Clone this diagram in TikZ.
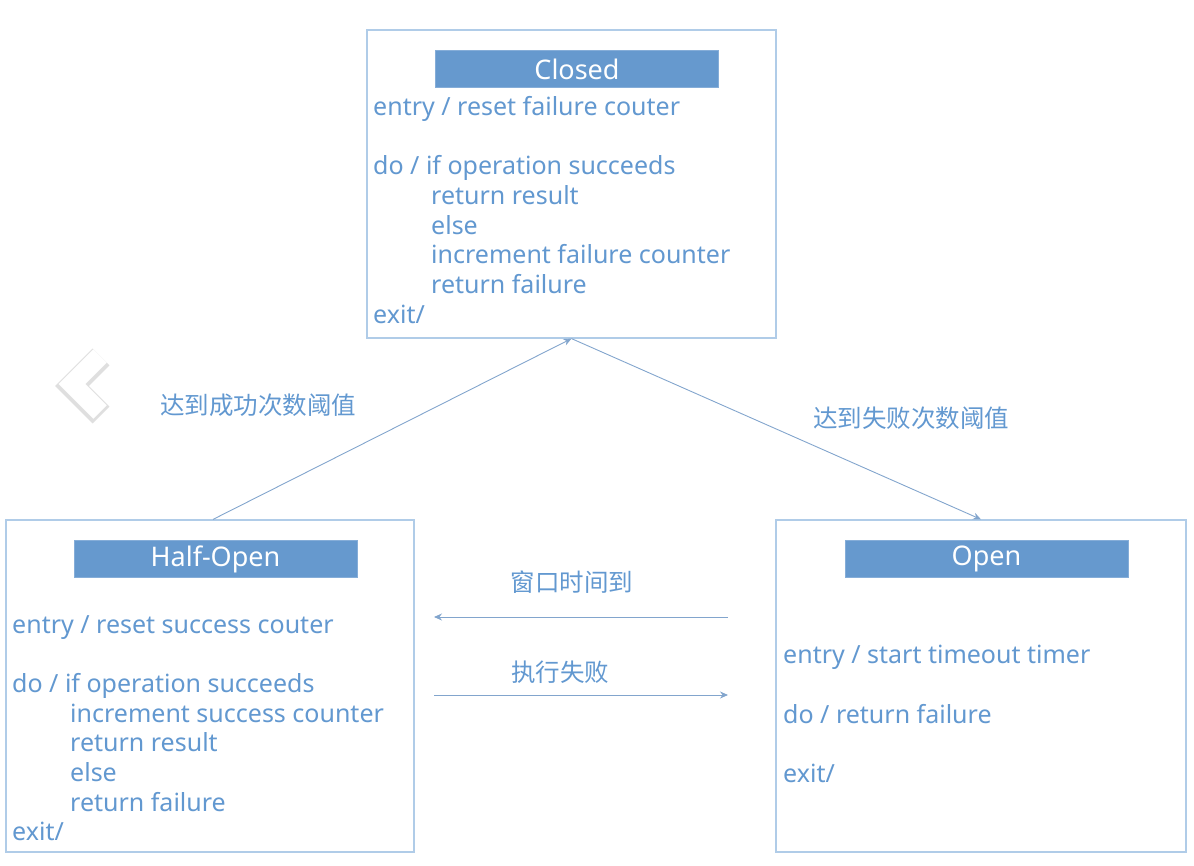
\documentclass[tikz,border=0pt]{standalone}
\usepackage{fontspec}
\setmainfont{Noto Sans}
\newfontfamily\cjk{Noto Sans CJK SC}
\usetikzlibrary{arrows.meta}
\definecolor{txtblue}{RGB}{98,152,208}
\definecolor{barblue}{RGB}{102,153,206}
\definecolor{boxline}{RGB}{176,204,232}
\definecolor{arrowc}{RGB}{130,165,205}
\tikzset{
  statebox/.style={draw=boxline, line width=1.2pt, fill=white, inner sep=0pt},
  titlebar/.style={fill=barblue, draw=barblue!80!white, line width=0.6pt, minimum width=283pt, minimum height=37pt, inner sep=0pt, text=white, font=\fontsize{27}{30}\selectfont},
  bodytext/.style={anchor=north west, inner sep=0pt, align=left, text=txtblue, font=\fontsize{25}{29.7}\selectfont},
  lbl/.style={text=txtblue, font=\cjk\fontsize{24.5}{28}\selectfont, inner sep=0pt},
  conn/.style={draw=arrowc, line width=0.9pt, -{Stealth[length=8pt,width=7pt]}},
}
\newcommand{\ind}{\hspace*{58pt}}
\begin{document}
\begin{tikzpicture}[x=1pt,y=-1pt]
\useasboundingbox (0,0) rectangle (1194,866);
% states
\node[statebox, minimum width=409pt, minimum height=308pt] (closed) at (571.5,184) {};
\node[statebox, minimum width=408pt, minimum height=332pt] (halfopen) at (210,686) {};
\node[statebox, minimum width=410pt, minimum height=332pt] (open) at (981,686) {};
% titles
\node[titlebar] (closedtitle) at (577,69) {Closed};
\node[titlebar] (halftitle) at (215.5,559) {Half-Open};
\node[titlebar] (opentitle) at (986.5,559) {Open};
% bodies
\node[bodytext] (closedtext) at (373,96) {entry / reset failure couter\\ \mbox{}\\ do / if operation succeeds\\ \ind return result\\ \ind else\\ \ind increment failure counter\\ \ind return failure\\ exit/};
\node[bodytext] (halftext) at (12,615) {entry / reset success couter\\ \mbox{}\\ do / if operation succeeds\\ \ind increment success counter\\ \ind return result\\ \ind else\\ \ind return failure\\ exit/};
\node[bodytext] (opentext) at (783,645) {entry / start timeout timer\\ \mbox{}\\ do / return failure\\ \mbox{}\\ exit/};
% connectors
\draw[conn] (halfopen.north) ++(3,0) coordinate (hn) (hn) -- (closed.south);
\draw[conn] (closed.south) -- (open.north);
\node[lbl] (lblsucc) at (258,405) {达到成功次数阈值};
\node[lbl] (lblfail) at (911,418) {达到失败次数阈值};
\coordinate (w1s) at (728,617);
\coordinate (w1e) at (434,617);
\coordinate (w2s) at (434,695);
\coordinate (w2e) at (728,695);
\draw[conn] (w1s) -- (w1e);
\draw[conn] (w2s) -- (w2e);
\node[lbl] (lblwin) at (572,582) {窗口时间到};
\node[lbl] (lblexec) at (560,672) {执行失败};
% slideshow chevron
\draw[black!50, line width=24pt, line join=miter, opacity=0.25] (101,357) -- (72,386) -- (101,415);
\draw[white, line width=19pt, line join=miter] (100,356) -- (72,384) -- (100,412);
\end{tikzpicture}
\end{document}
